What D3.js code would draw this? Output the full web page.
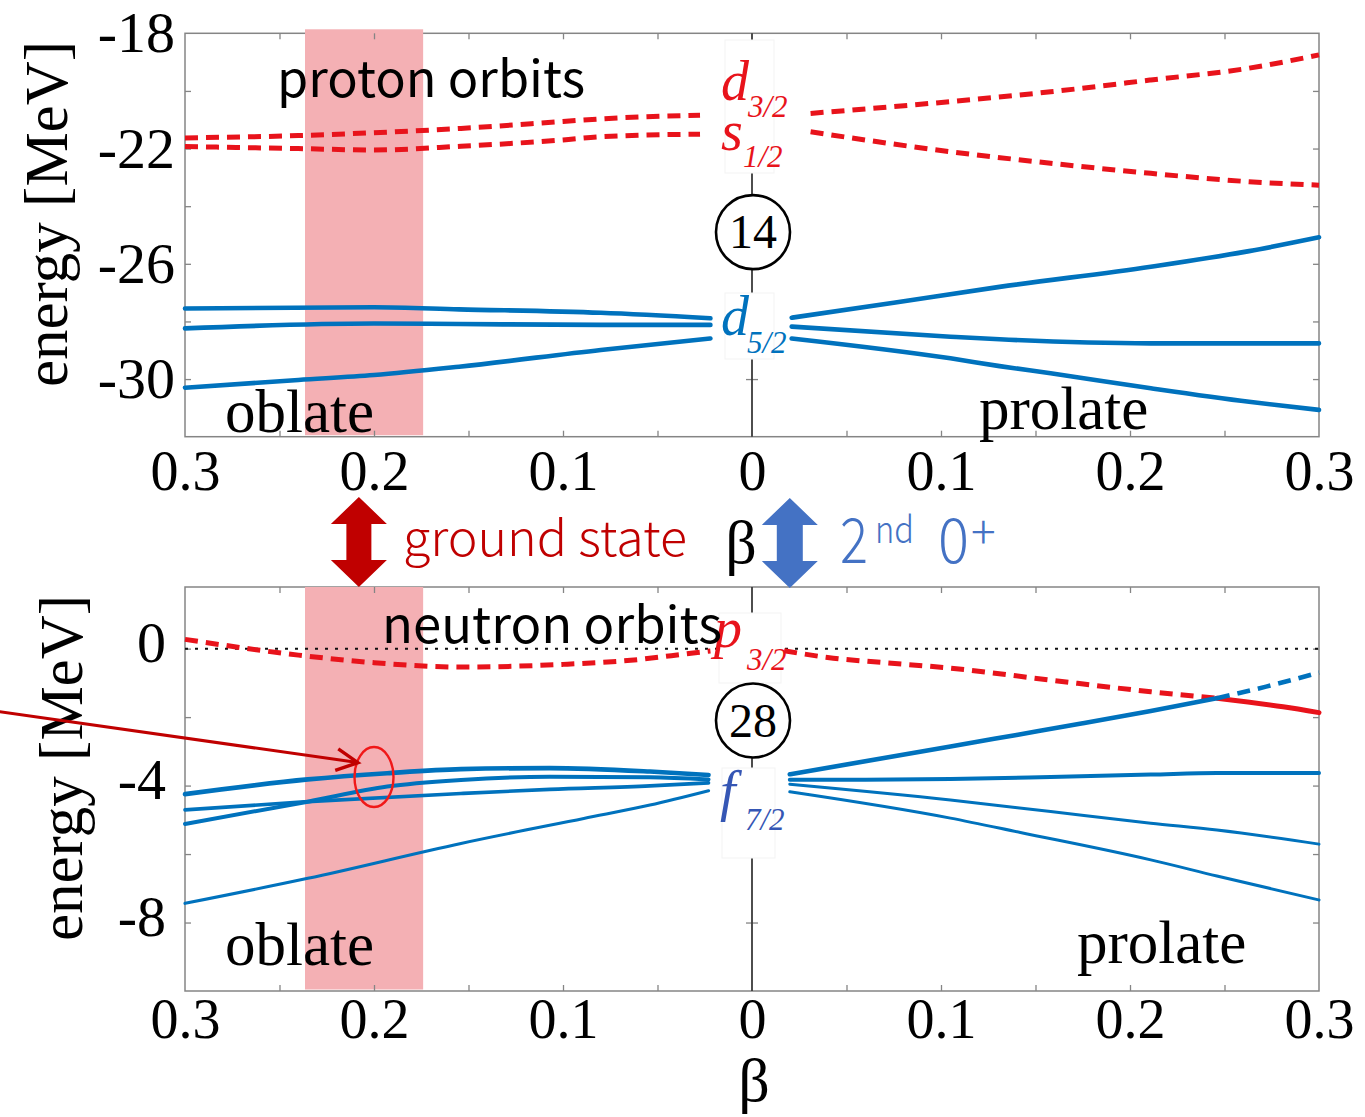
<!DOCTYPE html>
<html>
<head>
<meta charset="utf-8">
<script src="https://cdn.jsdelivr.net/npm/d3@7"></script>
<style>
  body { margin: 0; background: #fff; }
</style>
</head>
<body>
<svg id="chart" width="1365" height="1117"></svg>
<script>
// ---------- axis tick values and labels ----------
const betaTickValues = [-0.3, -0.2, -0.1, 0, 0.1, 0.2, 0.3];
const betaTickText   = ["0.3", "0.2", "0.1", "0", "0.1", "0.2", "0.3"];
const betaMinorTicks = [-0.25, -0.2, -0.15, -0.1, -0.05, 0.05, 0.1, 0.15, 0.2, 0.25];
const protonTickValues = [-20, -22, -24, -26, -28, -30];
const protonTickLabels = [-18, -22, -26, -30];
const neutronTickValues = [0, -2, -4, -6, -8];
const neutronTickLabels = [0, -4, -8];

// ---------- proton single-particle levels [beta, energy MeV] (negative beta = oblate) ----------
const protonD32Oblate = [[-0.3, -21.63], [-0.24, -21.55], [-0.2, -21.45], [-0.154, -21.30], [-0.1, -21.06], [-0.08, -20.97], [-0.0275, -20.84]];
const protonS12Oblate = [[-0.3, -21.93], [-0.24, -22.0], [-0.2, -22.05], [-0.154, -21.92], [-0.1, -21.70], [-0.08, -21.59], [-0.0275, -21.50]];
const protonD32Prolate = [[0.031, -20.78], [0.105, -20.37], [0.158, -20.03], [0.211, -19.62], [0.263, -19.21], [0.3, -18.75]];
const protonS12Prolate = [[0.031, -21.42], [0.105, -22.11], [0.158, -22.51], [0.211, -22.86], [0.263, -23.15], [0.3, -23.27]];

const protonD52OblateA = [[-0.3, -27.55], [-0.2, -27.51], [-0.155, -27.58], [-0.08, -27.70], [-0.022, -27.89]];
const protonD52OblateB = [[-0.3, -28.24], [-0.2, -28.07], [-0.155, -28.09], [-0.08, -28.12], [-0.022, -28.12]];
const protonD52OblateC = [[-0.3, -30.30], [-0.24, -30.03], [-0.2, -29.86], [-0.155, -29.57], [-0.08, -28.99], [-0.022, -28.59]];
const protonD52ProlateA = [[0.021, -27.87], [0.075, -27.35], [0.131, -26.80], [0.211, -26.10], [0.263, -25.56], [0.3, -25.08]];
const protonD52ProlateB = [[0.021, -28.18], [0.105, -28.53], [0.131, -28.62], [0.211, -28.76], [0.3, -28.76]];
const protonD52ProlateC = [[0.021, -28.59], [0.105, -29.28], [0.131, -29.55], [0.158, -29.80], [0.211, -30.32], [0.263, -30.79], [0.3, -31.07]];

// ---------- neutron single-particle levels ----------
const neutronP32Oblate = [[-0.3, 0.27], [-0.24, -0.19], [-0.2, -0.41], [-0.154, -0.54], [-0.1, -0.46], [-0.066, -0.35], [-0.03, -0.12], [-0.022, -0.07]];
const neutronP32ProlateEmpty = [[0.017, -0.06], [0.043, -0.28], [0.068, -0.40], [0.105, -0.57], [0.158, -0.92], [0.211, -1.26], [0.246, -1.45]];
const neutronP32ProlateFilled = [[0.246, -1.45], [0.281, -1.70], [0.3, -1.87]];

const neutronF72Oblate1 = [[-0.3, -4.25], [-0.235, -3.82], [-0.193, -3.64], [-0.154, -3.52], [-0.107, -3.49], [-0.054, -3.59], [-0.023, -3.69]];
const neutronF72Oblate2 = [[-0.3, -4.71], [-0.235, -4.47], [-0.154, -4.23], [-0.107, -4.11], [-0.054, -4.01], [-0.023, -3.92]];
const neutronF72Oblate3 = [[-0.3, -5.12], [-0.235, -4.47], [-0.193, -4.03], [-0.154, -3.84], [-0.107, -3.74], [-0.054, -3.76], [-0.023, -3.82]];
const neutronF72Oblate4 = [[-0.3, -7.44], [-0.235, -6.71], [-0.154, -5.69], [-0.089, -4.96], [-0.054, -4.57], [-0.023, -4.15]];

const neutronF72Prolate1Filled = [[0.02, -3.67], [0.105, -2.86], [0.14, -2.52], [0.175, -2.18], [0.211, -1.82], [0.246, -1.45]];
const neutronF72Prolate1Empty = [[0.246, -1.45], [0.272, -1.11], [0.3, -0.70]];
const neutronF72Prolate2 = [[0.02, -3.83], [0.06, -3.83], [0.105, -3.81], [0.158, -3.75], [0.211, -3.68], [0.246, -3.63], [0.3, -3.63]];
const neutronF72Prolate3 = [[0.02, -3.96], [0.105, -4.42], [0.158, -4.76], [0.211, -5.10], [0.246, -5.30], [0.3, -5.71]];
const neutronF72Prolate4 = [[0.02, -4.18], [0.105, -4.95], [0.142, -5.37], [0.211, -6.17], [0.246, -6.64], [0.3, -7.34]];

// deformation range of the ground state, shell-gap marks
const groundStateBeta = [-0.2365, -0.174];
const protonGapEnergy = -24.9;
const neutronGapEnergy = -2.1;

// ---------- styles ----------
const BLUE = "#0072bd";
const RED = "#e8131b";
const SERIF = "'Liberation Serif', 'Times New Roman', serif";
const SANS = "'Noto Sans CJK JP', 'Noto Sans', sans-serif";
const FRAME = "#858585";

const svg = d3.select("#chart");
svg.append("rect").attr("width", 1365).attr("height", 1117).attr("fill", "#fff");

const x = d3.scaleLinear().domain([-0.3, 0.3]).range([185, 1319]);
const yP = d3.scaleLinear().domain([-18, -32]).range([33.3, 436.7]);
const yN = d3.scaleLinear().domain([1.8, -10]).range([587, 991]);

const levelLine = (ys) => d3.line().x(d => x(d[0])).y(d => ys(d[1])).curve(d3.curveMonotoneX);

function panel(ys, tickValues, tickLabels, opts) {
  const g = svg.append("g");
  const [y0, y1] = ys.range();
  const [x0, x1] = x.range();
  // frame
  g.append("rect").attr("x", x0).attr("y", y0).attr("width", x1 - x0).attr("height", y1 - y0)
    .attr("fill", "#fff").attr("stroke", FRAME).attr("stroke-width", 1.5);
  // ground-state band
  g.append("rect")
    .attr("x", x(groundStateBeta[0])).attr("width", x(groundStateBeta[1]) - x(groundStateBeta[0]))
    .attr("y", y0 - opts.bandOver).attr("height", y1 - y0 + opts.bandOver - 1.5)
    .attr("fill", "#f4b0b4");
  // tick marks on all four edges and the centre axis
  const tickStyle = sel => { sel.select(".domain").remove(); sel.selectAll("line").attr("stroke", FRAME).attr("stroke-width", 1.3); };
  g.append("g").attr("transform", `translate(0,${y1})`)
    .call(d3.axisBottom(x).tickValues(betaMinorTicks).tickSize(-6).tickFormat("")).call(tickStyle);
  g.append("g").attr("transform", `translate(0,${y0})`)
    .call(d3.axisTop(x).tickValues(betaMinorTicks).tickSize(-6).tickFormat("")).call(tickStyle);
  g.append("g").attr("transform", `translate(${x0},0)`)
    .call(d3.axisLeft(ys).tickValues(tickValues).tickSize(-6).tickFormat("")).call(tickStyle);
  g.append("g").attr("transform", `translate(${x1},0)`)
    .call(d3.axisRight(ys).tickValues(tickValues).tickSize(-6).tickFormat("")).call(tickStyle);
  g.append("g").attr("transform", `translate(${x(0)},0)`)
    .call(d3.axisLeft(ys).tickValues(tickValues).tickSize(6).tickFormat("")).call(tickStyle);
  g.append("g").attr("transform", `translate(${x(0)},0)`)
    .call(d3.axisRight(ys).tickValues(tickValues).tickSize(6).tickFormat("")).call(tickStyle);
  // centre (spherical) axis
  g.append("line").attr("x1", x(0)).attr("x2", x(0)).attr("y1", y0).attr("y2", y1)
    .attr("stroke", "#3a3a3a").attr("stroke-width", 1.8);

  // beta tick labels
  const xl = g.append("g").attr("transform", `translate(0,${y1})`)
    .call(d3.axisBottom(x).tickValues(betaTickValues).tickSize(0).tickFormat((d, i) => betaTickText[i]));
  xl.select(".domain").remove();
  xl.attr("font-family", SERIF).attr("font-size", 56);
  xl.selectAll("text").attr("y", opts.xLabelBase).attr("dy", null).attr("fill", "#000");

  // energy tick labels
  const yl = g.append("g").attr("transform", `translate(${x0},0)`)
    .call(d3.axisLeft(ys).tickValues(tickLabels).tickSize(0).tickFormat(d => d < 0 ? "-" + Math.abs(d) : String(d)));
  yl.select(".domain").remove();
  yl.attr("font-family", SERIF).attr("font-size", 58);
  yl.selectAll("text").attr("x", -opts.yLabelGap).attr("dy", opts.yLabelDy).attr("fill", "#000");

  // axis title
  g.append("text").attr("transform", `translate(${opts.titleX},${opts.titleY}) rotate(-90)`)
    .attr("text-anchor", "middle").attr("font-family", SERIF).attr("font-size", 61).text("energy [MeV]");
  return g;
}

function drawLevel(g, ys, pts, color, width, dashed) {
  g.append("path").datum(pts).attr("d", levelLine(ys))
    .attr("fill", "none").attr("stroke", color).attr("stroke-width", width)
    .attr("stroke-dasharray", dashed ? "13,8" : null)
    .attr("stroke-linecap", dashed ? "butt" : "round");
}

function labelBox(g, xa, xb, ya, yb) {
  g.append("rect").attr("x", xa).attr("y", ya).attr("width", xb - xa).attr("height", yb - ya)
    .attr("fill", "#fff").attr("stroke", "#f3f3f3").attr("stroke-width", 1);
}

// one text element per label stack: each item is [letter, sub, xL, baseL, xS, baseS]
function orbitLabel(g, color, items) {
  const t = g.append("text").attr("font-family", SERIF).attr("font-style", "italic").attr("fill", color);
  items.forEach(([letter, sub, xL, baseL, xS, baseS]) => {
    t.append("tspan").attr("x", xL).attr("y", baseL).attr("font-size", 56).text(letter);
    t.append("tspan").attr("x", xS).attr("y", baseS).attr("font-size", 31).text(sub);
  });
}

function magicCircle(g, ys, energy, text) {
  const cx = x(0) + 1, cy = ys(energy);
  g.append("circle").attr("cx", cx).attr("cy", cy).attr("r", 37)
    .attr("fill", "#fff").attr("stroke", "#000").attr("stroke-width", 2.6);
  g.append("text").attr("x", cx).attr("y", cy).attr("dy", "0.34em").attr("text-anchor", "middle")
    .attr("font-family", SERIF).attr("font-size", 48).text(text);
}

// ================= proton panel =================
const protonPanel = panel(yP, protonTickValues, protonTickLabels,
  { bandOver: 4, xLabelBase: 53, yLabelGap: 10, yLabelDy: "0.32em", titleX: 67, titleY: 214 });

[protonD32Oblate, protonS12Oblate, protonD32Prolate, protonS12Prolate]
  .forEach(s => drawLevel(protonPanel, yP, s, RED, 5, true));
[protonD52OblateA, protonD52OblateB, protonD52OblateC, protonD52ProlateA, protonD52ProlateB, protonD52ProlateC]
  .forEach(s => drawLevel(protonPanel, yP, s, BLUE, 4.6, false));

const xc = x(0);
labelBox(protonPanel, xc - 27, xc + 22, 40, 173);
labelBox(protonPanel, xc - 27, xc + 22, 293, 359);
orbitLabel(protonPanel, RED, [["d", "3/2", xc - 31, 100, xc - 4, 117], ["s", "1/2", xc - 31, 150, xc - 9, 167]]);
orbitLabel(protonPanel, BLUE, [["d", "5/2", xc - 31, 335, xc - 5, 353]]);
magicCircle(protonPanel, yP, protonGapEnergy, "14");

protonPanel.append("text").attr("x", 277).attr("y", 97).attr("font-family", SANS).attr("font-size", 50)
  .attr("textLength", 308).attr("lengthAdjust", "spacingAndGlyphs").text("proton orbits");
protonPanel.append("text").attr("x", 225).attr("y", 432).attr("font-family", SERIF).attr("font-size", 61).text("oblate");
protonPanel.append("text").attr("x", 979).attr("y", 429).attr("font-family", SERIF).attr("font-size", 61).text("prolate");

// ================= neutron panel =================
const neutronPanel = panel(yN, neutronTickValues, neutronTickLabels,
  { bandOver: 0, xLabelBase: 47, yLabelGap: 19, yLabelDy: "0.22em", titleX: 82, titleY: 768 });

// neutron threshold
neutronPanel.append("line").attr("x1", x(-0.3)).attr("x2", x(0.3)).attr("y1", yN(0)).attr("y2", yN(0))
  .attr("stroke", "#111").attr("stroke-width", 2).attr("stroke-dasharray", "3,7");

drawLevel(neutronPanel, yN, neutronP32Oblate, RED, 5, true);
drawLevel(neutronPanel, yN, neutronP32ProlateEmpty, RED, 5, true);
drawLevel(neutronPanel, yN, neutronP32ProlateFilled, RED, 5, false);
drawLevel(neutronPanel, yN, neutronF72Oblate4, BLUE, 3.1, false);
drawLevel(neutronPanel, yN, neutronF72Oblate2, BLUE, 3.6, false);
drawLevel(neutronPanel, yN, neutronF72Oblate3, BLUE, 4, false);
drawLevel(neutronPanel, yN, neutronF72Oblate1, BLUE, 4.6, false);
drawLevel(neutronPanel, yN, neutronF72Prolate4, BLUE, 3, false);
drawLevel(neutronPanel, yN, neutronF72Prolate3, BLUE, 3, false);
drawLevel(neutronPanel, yN, neutronF72Prolate2, BLUE, 4, false);
drawLevel(neutronPanel, yN, neutronF72Prolate1Filled, BLUE, 4.6, false);
drawLevel(neutronPanel, yN, neutronF72Prolate1Empty, BLUE, 4.6, true);

labelBox(neutronPanel, xc - 33, xc + 29, 613, 683);
labelBox(neutronPanel, xc - 30, xc + 23, 768, 858);
orbitLabel(neutronPanel, RED, [["p", "3/2", xc - 38, 647, xc - 5, 670]]);
orbitLabel(neutronPanel, "#3556b4", [["f", "7/2", xc - 32, 810, xc - 7, 830]]);
magicCircle(neutronPanel, yN, neutronGapEnergy, "28");

neutronPanel.append("text").attr("x", 382).attr("y", 643).attr("font-family", SANS).attr("font-size", 50)
  .attr("textLength", 340).attr("lengthAdjust", "spacingAndGlyphs").text("neutron orbits");
neutronPanel.append("text").attr("x", 225).attr("y", 965).attr("font-family", SERIF).attr("font-size", 61).text("oblate");
neutronPanel.append("text").attr("x", 1077).attr("y", 963).attr("font-family", SERIF).attr("font-size", 61).text("prolate");

// highlighted level crossing in the ground-state region
neutronPanel.append("ellipse").attr("cx", x(-0.2)).attr("cy", yN(-3.75)).attr("rx", 19.5).attr("ry", 30)
  .attr("fill", "none").attr("stroke", "#f01818").attr("stroke-width", 2.4);
const tipX = x(-0.2085), tipY = yN(-3.33);
const startX = -5, startY = 711;
const ang = Math.atan2(startY - tipY, startX - tipX);
const armLen = 24, spread = 0.47;
neutronPanel.append("line").attr("x1", startX).attr("y1", startY).attr("x2", tipX - 2).attr("y2", tipY - 0.3)
  .attr("stroke", "#c00000").attr("stroke-width", 3);
neutronPanel.append("path")
  .attr("d", `M${tipX + armLen * Math.cos(ang + spread)},${tipY + armLen * Math.sin(ang + spread)} L${tipX},${tipY} L${tipX + armLen * Math.cos(ang - spread)},${tipY + armLen * Math.sin(ang - spread)}`)
  .attr("fill", "none").attr("stroke", "#c00000").attr("stroke-width", 3.4).attr("stroke-linejoin", "miter");

// x-axis symbols
svg.append("text").attr("x", 741).attr("y", 563).attr("text-anchor", "middle")
  .attr("font-family", SERIF).attr("font-size", 62).text("β");
svg.append("text").attr("x", 754).attr("y", 1101).attr("text-anchor", "middle")
  .attr("font-family", SERIF).attr("font-size", 62).text("β");

// ================= state markers between the panels =================
function doubleArrow(cx, y0, y1, headHalf, shaftHalf, headLen) {
  return `M${cx},${y0} L${cx + headHalf},${y0 + headLen} L${cx + shaftHalf},${y0 + headLen} ` +
    `L${cx + shaftHalf},${y1 - headLen} L${cx + headHalf},${y1 - headLen} L${cx},${y1} ` +
    `L${cx - headHalf},${y1 - headLen} L${cx - shaftHalf},${y1 - headLen} L${cx - shaftHalf},${y0 + headLen} ` +
    `L${cx - headHalf},${y0 + headLen} Z`;
}
svg.append("path").attr("d", doubleArrow(x(-0.208), 497, 587, 28, 12.5, 27)).attr("fill", "#c00000");
svg.append("path").attr("d", doubleArrow(x(0.02), 498, 588, 28, 13, 27)).attr("fill", "#4472c4");

svg.append("text").attr("x", 403).attr("y", 556).attr("font-family", SANS).attr("font-weight", 300)
  .attr("font-size", 48).attr("fill", "#c00000")
  .attr("textLength", 284).attr("lengthAdjust", "spacingAndGlyphs").text("ground state");

const sec = svg.append("text").attr("font-family", SANS).attr("font-weight", 300).attr("fill", "#4472c4");
sec.append("tspan").attr("x", 840).attr("y", 563).attr("font-size", 62)
  .attr("textLength", 28).attr("lengthAdjust", "spacingAndGlyphs").text("2");
sec.append("tspan").attr("x", 875).attr("y", 543).attr("font-size", 38)
  .attr("textLength", 39).attr("lengthAdjust", "spacingAndGlyphs").text("nd");
sec.append("tspan").attr("x", 938).attr("y", 563).attr("font-size", 62)
  .attr("textLength", 31).attr("lengthAdjust", "spacingAndGlyphs").text("0");
sec.append("tspan").attr("x", 971).attr("y", 549).attr("font-size", 46).text("+");
</script>
</body>
</html>
